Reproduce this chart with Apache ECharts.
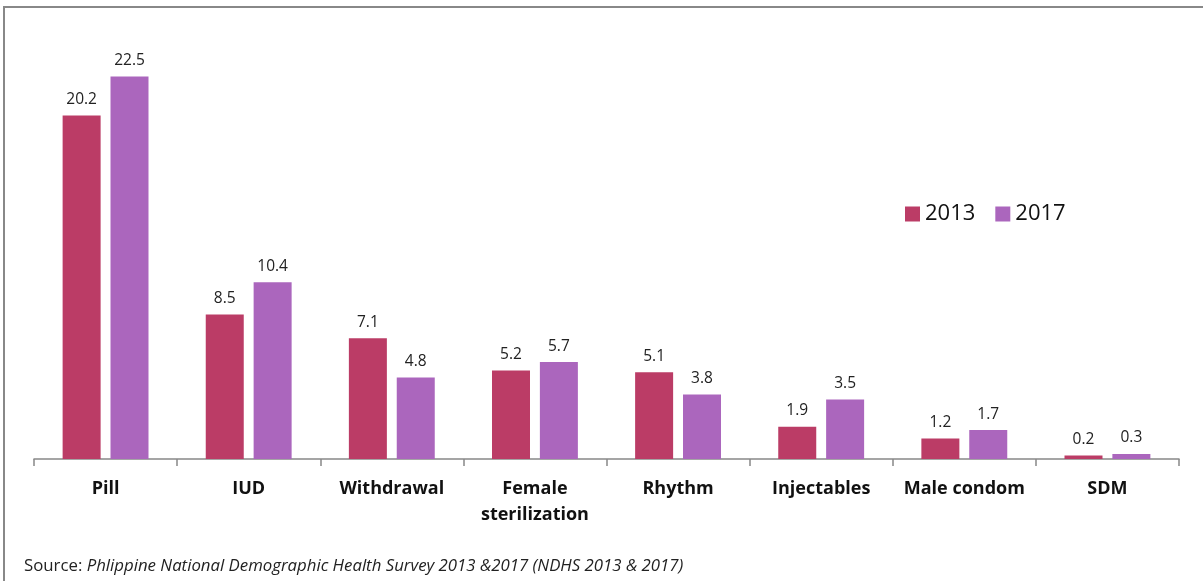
<!DOCTYPE html>
<html>
<head>
<meta charset="utf-8">
<style>
  html, body { margin: 0; padding: 0; background: #fff; }
  #chart { width: 1203px; height: 581px; }
</style>
<script src="https://cdn.jsdelivr.net/npm/echarts@6/dist/echarts.min.js"></script>
</head>
<body>
<div id="chart"></div>
<script>
// Contraceptive methods and their usage shares (%)
const categories = ['Pill', 'IUD', 'Withdrawal', 'Female\nsterilization', 'Rhythm', 'Injectables', 'Male condom', 'SDM'];
const values2013 = [20.2, 8.5, 7.1, 5.2, 5.1, 1.9, 1.2, 0.2];
const values2017 = [22.5, 10.4, 4.8, 5.7, 3.8, 3.5, 1.7, 0.3];
const seriesNames = ['2013', '2017'];

const FONT = '"Open Sans", Lato, "Noto Sans", sans-serif';

const chart = echarts.init(document.getElementById('chart'));

const barLabel = {
  show: true,
  position: 'top',
  distance: 8,
  color: '#222',
  fontSize: 15.5,
  fontFamily: FONT
};

chart.setOption({
  animation: false,
  backgroundColor: '#fff',
  grid: { left: 34, right: 24, top: 34, bottom: 122, containLabel: false },
  legend: {
    data: seriesNames,
    left: 900,
    top: 198,
    itemWidth: 15,
    itemHeight: 15,
    itemGap: 20,
    icon: 'rect',
    textStyle: { fontSize: 22, fontFamily: FONT, color: '#111', padding: [0, 0, 0, 0] }
  },
  xAxis: {
    type: 'category',
    data: categories,
    axisLine: { lineStyle: { color: '#888', width: 1.5 } },
    axisTick: { show: true, length: 7, alignWithLabel: false, lineStyle: { color: '#888', width: 1.5 } },
    axisLabel: {
      margin: 17,
      fontSize: 18,
      fontWeight: 'bold',
      fontFamily: FONT,
      color: '#111',
      lineHeight: 26,
      interval: 0
    }
  },
  yAxis: {
    type: 'value',
    min: 0,
    max: 25,
    show: false,
    splitLine: { show: false }
  },
  series: [
    {
      name: seriesNames[0],
      type: 'bar',
      data: values2013,
      barWidth: 38,
      barGap: '26%',
      itemStyle: { color: '#bb3c66' },
      label: barLabel
    },
    {
      name: seriesNames[1],
      type: 'bar',
      data: values2017,
      barWidth: 38,
      itemStyle: { color: '#ab66bd' },
      label: barLabel
    }
  ],
  graphic: [
    {
      // outer frame
      type: 'polyline',
      shape: { points: [[4, 581], [4, 7], [1203, 7]] },
      style: { stroke: '#888', lineWidth: 2, fill: null }
    },
    {
      type: 'text',
      left: 24,
      top: 558,
      style: {
        text: '{n|Source: }{i|Phlippine National Demographic Health Survey 2013 &2017 (NDHS 2013 & 2017)}',
        rich: {
          n: { fontSize: 16.8, fontFamily: FONT, fill: '#222' },
          i: { fontSize: 16.8, fontFamily: FONT, fontStyle: 'italic', fill: '#222' }
        }
      }
    }
  ]
});
</script>
</body>
</html>
